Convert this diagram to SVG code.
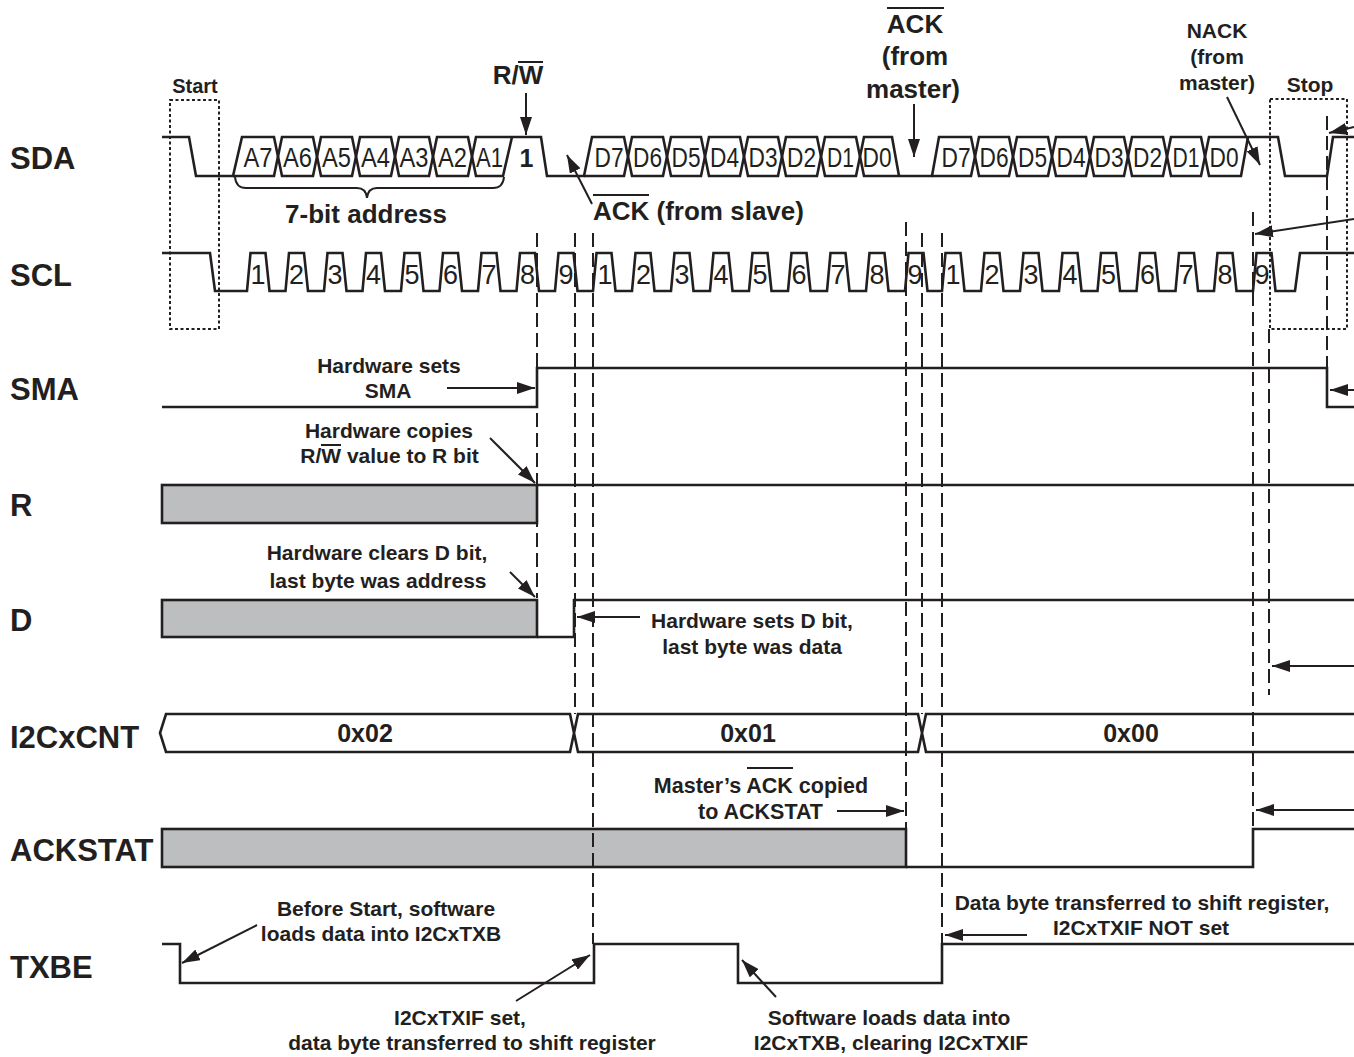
<svg xmlns="http://www.w3.org/2000/svg" width="1354" height="1057" viewBox="0 0 1354 1057">
<defs>
<marker id="ah" markerUnits="userSpaceOnUse" markerWidth="18" markerHeight="12" refX="18" refY="6" orient="auto">
<path d="M0,0 L18,6 L0,12 z" fill="#231f20"/>
</marker>
<style>
.w{fill:none;stroke:#231f20;stroke-width:2.6;stroke-linejoin:miter}
.g{fill:#bcbec0;stroke:#231f20;stroke-width:2.6}
.dash{fill:none;stroke:#231f20;stroke-width:2;stroke-dasharray:14 6}
.dot{fill:none;stroke:#231f20;stroke-width:2;stroke-dasharray:3 2.5}
.arr{fill:none;stroke:#231f20;stroke-width:2;marker-end:url(#ah)}
.ov{stroke:#231f20;stroke-width:2}
text{fill:#231f20;font-family:"Liberation Sans",Arial,sans-serif}
.lbl{font-size:31px;font-weight:bold}
.ann{font-size:21px;font-weight:bold;text-anchor:middle}
.big{font-size:26px;font-weight:bold;text-anchor:middle}
.cell{font-size:28px;text-anchor:middle}
.num{font-size:27px;text-anchor:middle}
.val{font-size:25px;font-weight:bold;text-anchor:middle}
</style>
</defs>

<g id="row-labels">
<text class="lbl" x="10" y="169">SDA</text>
<text class="lbl" x="10" y="286">SCL</text>
<text class="lbl" x="10" y="400">SMA</text>
<text class="lbl" x="10" y="516">R</text>
<text class="lbl" x="10" y="631">D</text>
<text class="lbl" x="10" y="748">I2CxCNT</text>
<text class="lbl" x="10" y="861">ACKSTAT</text>
<text class="lbl" x="10" y="978">TXBE</text>
</g>

<g id="markers">
<rect class="dot" x="170" y="100" width="49" height="229"/>
<rect class="dot" x="1270" y="99" width="77" height="230"/>
<text class="ann" x="195" y="93" style="font-size:20px">Start</text>
<text class="ann" x="1310" y="92">Stop</text>
</g>

<g id="sda">
<path class="w" d="M162,137 H189 L196,176 H233 L242,137 H274 L282,176 H313 L321,137 H352 L360,176 H391 L399,137 H429 L437,176 H468 L476,137 H541 L547,176 H584 L592,137 H624 L632,176 H663 L671,137 H701 L709,176 H740 L748,137 H778 L786,176 H817 L825,137 H856 L864,176 H932 L939,137 H971 L979,176 H1009 L1017,137 H1048 L1056,176 H1086 L1094,137 H1124 L1132,176 H1163 L1171,137 H1201 L1209,176 H1241 L1248,137"/>
<path class="w" d="M233,176 H274 L282,137 H313 L321,176 H352 L360,137 H391 L399,176 H429 L437,137 H468 L476,176 H503 L512,137"/>
<path class="w" d="M584,176 H624 L632,137 H663 L671,176 H701 L709,137 H740 L748,176 H778 L786,137 H817 L825,176 H856 L864,137 H892 L899,176"/>
<path class="w" d="M932,176 H971 L979,137 H1009 L1017,176 H1048 L1056,137 H1086 L1094,176 H1124 L1132,137 H1163 L1171,176 H1201 L1209,137 H1278 L1285,176 H1327 L1333,137 H1354"/>
<text class="cell" x="258" y="167" textLength="29" lengthAdjust="spacingAndGlyphs">A7</text>
<text class="cell" x="297.5" y="167" textLength="29" lengthAdjust="spacingAndGlyphs">A6</text>
<text class="cell" x="336.5" y="167" textLength="29" lengthAdjust="spacingAndGlyphs">A5</text>
<text class="cell" x="375.5" y="167" textLength="29" lengthAdjust="spacingAndGlyphs">A4</text>
<text class="cell" x="414" y="167" textLength="29" lengthAdjust="spacingAndGlyphs">A3</text>
<text class="cell" x="452.5" y="167" textLength="29" lengthAdjust="spacingAndGlyphs">A2</text>
<text class="cell" x="489.5" y="167" textLength="27" lengthAdjust="spacingAndGlyphs">A1</text>
<text class="big" x="526.5" y="167" style="font-size:25px">1</text>
<text class="cell" x="609" y="167" textLength="29" lengthAdjust="spacingAndGlyphs">D7</text>
<text class="cell" x="647.5" y="167" textLength="29" lengthAdjust="spacingAndGlyphs">D6</text>
<text class="cell" x="686" y="167" textLength="29" lengthAdjust="spacingAndGlyphs">D5</text>
<text class="cell" x="724.5" y="167" textLength="29" lengthAdjust="spacingAndGlyphs">D4</text>
<text class="cell" x="763" y="167" textLength="29" lengthAdjust="spacingAndGlyphs">D3</text>
<text class="cell" x="801.5" y="167" textLength="29" lengthAdjust="spacingAndGlyphs">D2</text>
<text class="cell" x="840.5" y="167" textLength="27" lengthAdjust="spacingAndGlyphs">D1</text>
<text class="cell" x="877" y="167" textLength="29" lengthAdjust="spacingAndGlyphs">D0</text>
<text class="cell" x="956" y="167" textLength="29" lengthAdjust="spacingAndGlyphs">D7</text>
<text class="cell" x="994" y="167" textLength="29" lengthAdjust="spacingAndGlyphs">D6</text>
<text class="cell" x="1032.5" y="167" textLength="29" lengthAdjust="spacingAndGlyphs">D5</text>
<text class="cell" x="1071" y="167" textLength="29" lengthAdjust="spacingAndGlyphs">D4</text>
<text class="cell" x="1109" y="167" textLength="29" lengthAdjust="spacingAndGlyphs">D3</text>
<text class="cell" x="1147.5" y="167" textLength="29" lengthAdjust="spacingAndGlyphs">D2</text>
<text class="cell" x="1186" y="167" textLength="27" lengthAdjust="spacingAndGlyphs">D1</text>
<text class="cell" x="1224" y="167" textLength="29" lengthAdjust="spacingAndGlyphs">D0</text>
<path class="w" style="stroke-width:2" d="M235,177 Q236,188 246,188 H357 Q366,188 367,198 Q368,188 377,188 H493 Q503,188 504,177"/>
<text class="big" x="366" y="223">7-bit address</text>
<text class="big" x="518" y="84">R/W</text>
<line class="ov" x1="518" y1="62" x2="543" y2="62"/>
<text class="big" x="593" y="220" style="text-anchor:start">ACK (from slave)</text>
<line class="ov" x1="593" y1="195" x2="649" y2="195"/>
<text class="big" x="915" y="33">ACK</text>
<line class="ov" x1="887" y1="8" x2="944" y2="8"/>
<text class="big" x="915" y="65">(from</text>
<text class="big" x="913" y="98">master)</text>
<text class="ann" x="1217" y="38">NACK</text>
<text class="ann" x="1217" y="64">(from</text>
<text class="ann" x="1217" y="90">master)</text>
</g>

<g id="scl">
<path class="w" d="M162,253 H210 L215,291 H247 L250.5,253 H265.5 L269.5,291 H285.5 L289,253 H304 L308,291 H324 L327.5,253 H342.5 L346.5,291 H362.5 L366,253 H381 L385,291 H401 L404.5,253 H419.5 L423.5,291 H439.5 L443,253 H458 L462,291 H478 L481.5,253 H496.5 L500.5,291 H516.5 L520,253 H535 L539,291 H555 L558.5,253 H573.5 L577.5,291 H593 L596.5,253 H611.5 L615.5,291 H632 L635.5,253 H650.5 L654.5,291 H671 L674.5,253 H689.5 L693.5,291 H710 L713.5,253 H728.5 L732.5,291 H749 L752.5,253 H767.5 L771.5,291 H788 L791.5,253 H806.5 L810.5,291 H827 L830.5,253 H845.5 L849.5,291 H866 L869.5,253 H884.5 L888.5,291 H905 L908.5,253 H923.5 L927.5,291 H942 L945.5,253 H960.5 L964.5,291 H981 L984.5,253 H999.5 L1003.5,291 H1020 L1023.5,253 H1038.5 L1042.5,291 H1059 L1062.5,253 H1077.5 L1081.5,291 H1097.5 L1101,253 H1116 L1120,291 H1136.5 L1140,253 H1155 L1159,291 H1175.5 L1179,253 H1194 L1198,291 H1214 L1217.5,253 H1232.5 L1236.5,291 H1253 L1256.5,253 H1271.5 L1275.5,291 H1295 L1300,253 H1354"/>
<text class="num" x="258" y="284">1</text>
<text class="num" x="296.5" y="284">2</text>
<text class="num" x="335" y="284">3</text>
<text class="num" x="373.5" y="284">4</text>
<text class="num" x="412" y="284">5</text>
<text class="num" x="450.5" y="284">6</text>
<text class="num" x="489" y="284">7</text>
<text class="num" x="527.5" y="284">8</text>
<text class="num" x="566" y="284">9</text>
<text class="num" x="605" y="284">1</text>
<text class="num" x="643.5" y="284">2</text>
<text class="num" x="682" y="284">3</text>
<text class="num" x="721" y="284">4</text>
<text class="num" x="760" y="284">5</text>
<text class="num" x="799" y="284">6</text>
<text class="num" x="838" y="284">7</text>
<text class="num" x="877" y="284">8</text>
<text class="num" x="915" y="284">9</text>
<text class="num" x="953" y="284">1</text>
<text class="num" x="992" y="284">2</text>
<text class="num" x="1031" y="284">3</text>
<text class="num" x="1070" y="284">4</text>
<text class="num" x="1108.5" y="284">5</text>
<text class="num" x="1147.5" y="284">6</text>
<text class="num" x="1186" y="284">7</text>
<text class="num" x="1225" y="284">8</text>
<text class="num" x="1262" y="284">9</text>
</g>

<g id="sma">
<path class="w" d="M162,407 H537 V368 H1327 V407 H1354"/>
<text class="ann" x="389" y="373">Hardware sets</text>
<text class="ann" x="388" y="398">SMA</text>
</g>

<g id="r">
<rect class="g" x="162" y="485" width="375" height="38"/>
<path class="w" d="M537,485 H1354"/>
<text class="ann" x="389" y="438">Hardware copies</text>
<text class="ann" x="389.5" y="463">R/W value to R bit</text>
<line class="ov" x1="321" y1="445" x2="341" y2="445"/>
</g>

<g id="d">
<rect class="g" x="162" y="600" width="375" height="37"/>
<path class="w" d="M537,637 H574 V600 H1354"/>
<text class="ann" x="377" y="560">Hardware clears D bit,</text>
<text class="ann" x="378" y="588">last byte was address</text>
<text class="ann" x="752" y="628">Hardware sets D bit,</text>
<text class="ann" x="752" y="654">last byte was data</text>
</g>

<g id="i2ccnt">
<path class="w" d="M1354,714 H926 L918,752 H578 L570,714 H166 L160,733 L166,752 H570 L578,714 H918 L926,752 H1354"/>
<text class="val" x="365" y="742">0x02</text>
<text class="val" x="748" y="742">0x01</text>
<text class="val" x="1131" y="742">0x00</text>
</g>

<g id="ackstat">
<rect class="g" x="162" y="829" width="744" height="38"/>
<path class="w" d="M906,867 H1253 V829 H1354"/>
<text class="ann" x="761" y="793" style="font-size:21.5px">Master’s ACK copied</text>
<line class="ov" x1="747" y1="768" x2="793" y2="768"/>
<text class="ann" x="698" y="819" style="font-size:21.5px;text-anchor:start">to ACKSTAT</text>
</g>

<g id="txbe">
<path class="w" d="M162,944 H180 V983 H594 V944 H738 V983 H942 V944 H1354"/>
<text class="ann" x="386" y="916">Before Start, software</text>
<text class="ann" x="381" y="941">loads data into I2CxTXB</text>
<text class="ann" x="460" y="1025">I2CxTXIF set,</text>
<text class="ann" x="472" y="1050">data byte transferred to shift register</text>
<text class="ann" x="889" y="1025">Software loads data into</text>
<text class="ann" x="891" y="1050">I2CxTXB, clearing I2CxTXIF</text>
<text class="ann" x="1142" y="910">Data byte transferred to shift register,</text>
<text class="ann" x="1141" y="935">I2CxTXIF NOT set</text>
</g>

<g id="connectors">
<path class="dash" d="M537,233 V598"/>
<path class="dash" d="M575,233 V714"/>
<path class="dash" d="M593,233 V944"/>
<path class="dash" d="M906,222 V829"/>
<path class="dash" d="M922,233 V714"/>
<path class="dash" d="M942,233 V944"/>
<path class="dash" d="M1253,212 V829"/>
<path class="dash" d="M1269,329 V695"/>
<path class="dash" d="M1327,116 V368"/>
<path class="arr" d="M526,93 L526,135"/>
<path class="arr" d="M592,204 L567,155"/>
<path class="arr" d="M914,104 L914,157"/>
<path class="arr" d="M1227,97 L1260,165"/>
<path class="arr" d="M1354,127 L1329,133"/>
<path class="arr" d="M1354,219 L1255,234"/>
<path class="arr" d="M447,388 L535,388"/>
<path class="arr" d="M1354,390 L1330,390"/>
<path class="arr" d="M490,438 L535,483"/>
<path class="arr" d="M510,572 L535,597"/>
<path class="arr" d="M640,617 L577,617"/>
<path class="arr" d="M1354,666 L1272,666"/>
<path class="arr" d="M837,811 L904,811"/>
<path class="arr" d="M1354,810 L1256,810"/>
<path class="arr" d="M257,925 L182,963"/>
<path class="arr" d="M516,1001 L590,955"/>
<path class="arr" d="M776,997 L742,960"/>
<path class="arr" d="M1027,935 L945,935"/>
</g>
</svg>
